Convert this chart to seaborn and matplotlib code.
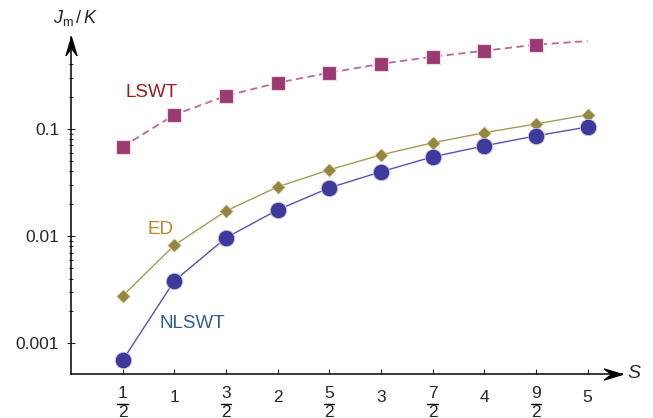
import numpy as np
import pandas as pd
import matplotlib
matplotlib.use("Agg")
import matplotlib.pyplot as plt
import matplotlib.ticker as mticker
from matplotlib.path import Path
import seaborn as sns

# data
spins = [0.5, 1.0, 1.5, 2.0, 2.5, 3.0, 3.5, 4.0, 4.5, 5.0]
spin_labels = ["1/2", "1", "3/2", "2", "5/2", "3", "7/2", "4", "9/2", "5"]
lswt = [0.068, 0.135, 0.203, 0.269, 0.334, 0.404, 0.471, 0.536, 0.61, 0.66]
lswt_marked = 9  # no marker at S=5
ed = [0.00275, 0.0082, 0.0171, 0.0287, 0.0414, 0.0571, 0.074, 0.092, 0.111, 0.135]
nlswt = [0.00069, 0.0038, 0.0096, 0.0175, 0.0281, 0.0397, 0.0547, 0.0693, 0.086, 0.104]
y_ticks = [0.001, 0.01, 0.1]
y_ticklabels = ["0.001", "0.01", "0.1"]

sns.set_style("white")
plt.rcParams["font.family"] = ["Liberation Sans", "DejaVu Sans"]
plt.rcParams["mathtext.fontset"] = "custom"
plt.rcParams["mathtext.rm"] = "Liberation Sans"
plt.rcParams["mathtext.it"] = "Liberation Sans:italic"
plt.rcParams["mathtext.bf"] = "Liberation Sans:bold"

fig = plt.figure(figsize=(6.53, 4.18), dpi=100)
# axes box in pixels: x 71..622, y 37..374 (arrow tips at the box ends)
ax = fig.add_axes([71 / 653, 1 - 374 / 418, (622 - 71) / 653, (374 - 37) / 418])

df = pd.DataFrame({"S": spins, "LSWT": lswt, "ED": ed, "NLSWT": nlswt})

sns.lineplot(data=df, x="S", y="LSWT", ax=ax, color="#b86a98", lw=1.3,
             linestyle=(0, (4, 2.5)), zorder=2)
sns.lineplot(data=df, x="S", y="ED", ax=ax, color="#a59a55", lw=1.0, zorder=2)
sns.lineplot(data=df, x="S", y="NLSWT", ax=ax, color="#5752b0", lw=1.0, zorder=2)

sns.scatterplot(data=df.iloc[:lswt_marked], x="S", y="LSWT", ax=ax, marker="s",
                s=95, color="#993b72", edgecolor="#f0d8e4", linewidth=0.8, zorder=3)
sns.scatterplot(data=df, x="S", y="ED", ax=ax, marker="D", s=48,
                color="#958640", edgecolor="#e8e0c0", linewidth=0.5, zorder=3)
sns.scatterplot(data=df, x="S", y="NLSWT", ax=ax, marker="o", s=140,
                color="#3e3a9c", edgecolor="#c8c8ea", linewidth=0.6, zorder=3)

ax.set_yscale("log")
ax.set_xlim(0, (622 - 71) / 103.3)
ax.set_ylim(0.000514, 0.72)
ax.set_xticks(spins)
# integer labels as normal tick labels, fractions stacked by hand below
ax.set_xticklabels(["" if "/" in t else t for t in spin_labels])
xtrans = ax.get_xaxis_transform()
bar_y = -30 / 337  # 30 px below the axis line
for s, t in zip(spins, spin_labels):
    if "/" not in t:
        continue
    num, den = t.split("/")
    ax.annotate(num, xy=(s, 0), xycoords=xtrans, xytext=(0, -17.3),
                textcoords="offset points", ha="center", va="baseline", fontsize=12.5)
    ax.annotate(den, xy=(s, 0), xycoords=xtrans, xytext=(0, -31.0),
                textcoords="offset points", ha="center", va="baseline", fontsize=12.5)
    ax.plot([s - 0.05, s + 0.05], [bar_y, bar_y], color="black", lw=1.0,
            transform=xtrans, clip_on=False)

ax.yaxis.set_major_locator(mticker.FixedLocator(y_ticks))
ax.set_yticklabels(y_ticklabels)
minor = [m * d for d in (0.001, 0.01, 0.1) for m in range(2, 10) if m * d < 0.45]
ax.yaxis.set_minor_locator(mticker.FixedLocator(minor))
ax.yaxis.set_minor_formatter(mticker.NullFormatter())
ax.tick_params(axis="x", direction="in", length=3.5, width=0.8, pad=11.5, bottom=True,
               labelsize=12.5)
ax.tick_params(axis="y", which="major", direction="inout", length=6, width=0.8, pad=5.5,
               left=True, labelsize=12.5)
ax.tick_params(axis="y", which="minor", direction="inout", length=3.5, width=0.7, left=True)
ax.set_xlabel("")
ax.set_ylabel("")

for side in ("top", "right"):
    ax.spines[side].set_visible(False)
for side in ("left", "bottom"):
    ax.spines[side].set_color("black")
    ax.spines[side].set_linewidth(1.1)

# stealth-like arrow heads, tip placed at the axis end
right_head = Path([(0, 0), (-2, 0.6), (-1.2, 0), (-2, -0.6), (0, 0)],
                  [Path.MOVETO, Path.LINETO, Path.LINETO, Path.LINETO, Path.CLOSEPOLY])
up_head = Path([(0, 0), (0.6, -2), (0, -1.2), (-0.6, -2), (0, 0)],
               [Path.MOVETO, Path.LINETO, Path.LINETO, Path.LINETO, Path.CLOSEPOLY])
ax.plot(1, 0, marker=right_head, color="black", markersize=26, transform=ax.transAxes, clip_on=False)
ax.plot(0, 1, marker=up_head, color="black", markersize=26, transform=ax.transAxes, clip_on=False)

ax.text(0.78, 0.217, "LSWT", color="#9a1c1c", fontsize=13.5, ha="center", va="center")
ax.text(0.87, 0.0115, "ED", color="#b5862a", fontsize=13.5, ha="center", va="center")
ax.text(1.17, 0.00151, "NLSWT", color="#2e5d93", fontsize=13.5, ha="center", va="center")

fig.text(75 / 653, 1 - 18 / 418, r"$J_\mathrm{m}\,/\,K$", fontsize=13, ha="center", va="center")
fig.text(634 / 653, 1 - 374 / 418, r"$S$", fontsize=14, ha="center", va="center")

fig.savefig("out.png", dpi=100)
